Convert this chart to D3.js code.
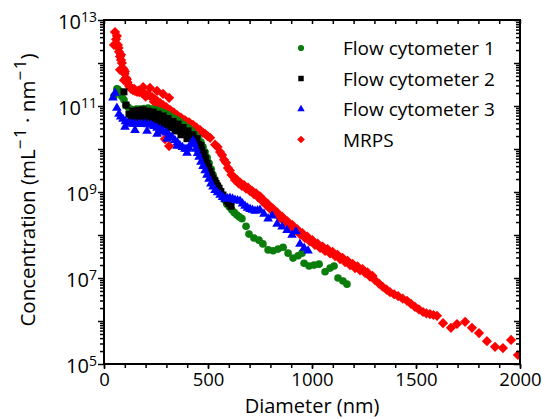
<!DOCTYPE html>
<html><head><meta charset="utf-8">
<script src="https://cdn.jsdelivr.net/npm/d3@7"></script>
<style>
html,body{margin:0;padding:0;background:#fff;}
svg{display:block;font-family:"Open Sans",sans-serif;}
</style></head>
<body><svg id="c" width="545" height="419"></svg>
<script>
// ---------- data ----------
const fc1Diameter = [48,62,77,96,115,139,173,212,250,288,327,365,404,438,466,486,505,524,543,567,591,615,639,663,683,697,721,745,764,789,813,837,861,885,909,933,952,962,986,1010,1034,1063,1087,1106,1125,1149,1168,
  68,86,105,127,156,192,231,269,307,346,385,421,452,476,496,515,534,555,579,603,627,651];
const fc1Conc = [1.7e11,2.5e11,2.1e11,1.4e11,9.5e10,8.1e10,8.5e10,9.0e10,8.1e10,6.9e10,5.5e10,4.3e10,3.1e10,2.2e10,1.45e10,8.5e9,4.7e9,2.5e9,1.45e9,8.5e8,5.2e8,3.8e8,2.9e8,2.4e8,1.6e8,1.05e8,8.5e7,7.6e7,6.2e7,4.5e7,4.3e7,4.7e7,5.2e7,3.8e7,2.9e7,3.3e7,3.8e7,2.2e7,1.9e7,2.0e7,2.1e7,1.4e7,1.7e7,1.9e7,1.0e7,8.5e6,7.2e6,
  2.4e11,1.66e11,1.07e11,8.51e10,8.51e10,8.71e10,8.51e10,7.59e10,6.31e10,4.9e10,3.63e10,2.63e10,1.82e10,1.12e10,6.31e9,3.39e9,1.91e9,1.12e9,6.61e8,4.47e8,3.31e8,2.63e8];

const fc2Diameter = [96,106,120,139,163,188,212,236,260,284,308,332,356,380,404,428,447,466,481,495,510,524,539,553,572,591,611,
  139,168,197,226,255,284,313,341,370,399,428,452,
  130,155,180,205,230,255,280,305,330,355,380,405,430,455,470,488,503,517,531,546,562,581,600];
const fc2Conc = [2.14e11,1.05e11,6.46e10,7.59e10,7.94e10,8.13e10,7.59e10,7.24e10,6.46e10,5.89e10,5.13e10,4.37e10,3.8e10,3.16e10,2.63e10,2.14e10,1.74e10,1.2e10,7.94e9,4.68e9,3.02e9,2.09e9,1.58e9,1.23e9,8.51e8,6.17e8,4.68e8,
  4.68e10,5.01e10,5.01e10,4.68e10,4.17e10,3.63e10,3.16e10,2.63e10,2.14e10,1.74e10,1.38e10,9.55e9,
  5.75e10,6.31e10,6.46e10,6.31e10,5.89e10,5.5e10,4.79e10,4.17e10,3.47e10,2.95e10,2.51e10,2.09e10,1.66e10,1.26e10,9.55e9,6.03e9,3.8e9,2.51e9,1.82e9,1.38e9,1.02e9,7.24e8,5.37e8];

const fc3Diameter = [43,53,62,72,91,115,139,168,197,226,255,284,313,341,365,389,409,428,442,457,476,495,514,534,558,582,606,630,654,678,702,726,750,769,789,808,832,856,880,904,923,942,962,981,
  101,149,207,255,303,351,399,
  80,103,127,153,182,211,240,270,298,327,353,377,399,418,435,450,466,486,505,524,546,570,594,618,642,666,690,714,738];
const fc3Conc = [1.55e11,2.0e11,9.0e10,6.5e10,5.0e10,4.0e10,3.8e10,3.8e10,3.8e10,3.6e10,3.1e10,2.6e10,2.1e10,1.6e10,1.2e10,1.0e10,1.05e10,1.55e10,1.0e10,6.5e9,4.0e9,2.5e9,1.55e9,1.1e9,8.5e8,6.9e8,7.2e8,6.5e8,6.2e8,4.7e8,4.0e8,3.6e8,3.8e8,3.1e8,2.4e8,2.8e8,1.8e8,1.55e8,1.3e8,1.0e8,1.2e8,6.2e7,5.0e7,4.3e7,
  3.24e10,2.75e10,2.63e10,2.24e10,1.7e10,1.17e10,8.13e9,
  5.62e10,4.37e10,3.89e10,3.8e10,3.8e10,3.72e10,3.39e10,2.88e10,2.4e10,1.86e10,1.41e10,1.1e10,1.0e10,1.32e10,1.26e10,7.94e9,5.01e9,3.16e9,2.0e9,1.32e9,9.77e8,7.59e8,7.08e8,6.92e8,6.31e8,5.37e8,4.27e8,3.8e8,3.72e8];

const mrpsDiameter = [53,62,67,72,77,82,91,99,106,113,120,130,139,149,159,170,183,195,207,219,231,243,255,270,284,300,317,335,351,370,389,409,428,445,462,486,510,534,558,577,596,613,630,647,663,683,702,721,740,760,779,800,822,846,870,894,918,942,966,990,1014,1039,1063,1087,1111,1135,1159,1183,1207,1231,1255,1279,1303,1322,1341,1358,1375,1395,1414,1436,1457,1476,1495,1514,1534,1550,1567,1584,1601,1630,1668,1697,1736,1769,1803,1841,1880,1918,1957,1990,
  188,221,255,284,313,96,77,48,82,221,245,269,293,313,
  58,70,86,95,100,110,125,145,165,200,240,260,290,325,360,400,437,475,498,
  546,568,587,605,622,640,655,673,693,712,731,750,770,790,811,834,858,882,906,930,954,978,1002,1027,1051,1075,1099,1123,1147,1171,1195,1219,1243,1267,1291];
const mrpsConc = [5.25e12,4.27e12,2.63e12,1.82e12,1.41e12,1.17e12,7.59e11,5.62e11,4.47e11,3.55e11,2.95e11,2.51e11,2.34e11,2.24e11,2.14e11,2.09e11,2.0e11,1.91e11,1.82e11,1.74e11,1.62e11,1.45e11,1.32e11,1.17e11,1.05e11,9.33e10,8.13e10,7.08e10,6.17e10,5.37e10,4.68e10,4.17e10,3.63e10,3.16e10,2.75e10,2.24e10,1.82e10,1.26e10,8.51e9,5.62e9,3.63e9,2.51e9,1.91e9,1.58e9,1.38e9,1.2e9,1.05e9,8.91e8,7.59e8,6.17e8,5.01e8,3.98e8,3.24e8,2.51e8,2.0e8,1.62e8,1.32e8,1.05e8,8.51e7,7.08e7,5.89e7,5.01e7,4.27e7,3.72e7,3.24e7,2.75e7,2.34e7,2.0e7,1.7e7,1.51e7,1.32e7,1.07e7,8.91e6,7.41e6,6.17e6,5.37e6,4.68e6,4.17e6,3.8e6,3.31e6,2.95e6,2.51e6,2.14e6,1.86e6,1.62e6,1.51e6,1.45e6,1.38e6,1.32e6,8.91e5,6.92e5,8.51e5,9.55e5,6.92e5,5.25e5,3.39e5,2.51e5,2.34e5,3.63e5,1.62e5,
  2.75e11,2.63e11,2.24e11,1.91e11,1.55e11,3.98e11,6.92e11,2.63e12,1.55e12,5.25e10,3.8e10,2.63e10,1.7e10,1.17e10,
  3.55e12,2.24e12,1.0e12,7.08e11,6.31e11,4.17e11,2.82e11,2.51e11,2.29e11,1.66e11,1.26e11,1.12e11,9.33e10,7.24e10,5.5e10,4.17e10,3.24e10,2.4e10,2.0e10,
  1.12e10,7.24e9,4.79e9,3.16e9,2.29e9,1.91e9,1.66e9,1.45e9,1.26e9,1.07e9,9.33e8,7.94e8,6.31e8,5.13e8,4.17e8,3.31e8,2.63e8,2.09e8,1.7e8,1.35e8,1.1e8,9.12e7,7.59e7,6.31e7,5.37e7,4.68e7,4.07e7,3.47e7,2.95e7,2.51e7,2.14e7,1.86e7,1.62e7,1.35e7,1.12e7];

const seriesNames = ["Flow cytometer 1","Flow cytometer 2","Flow cytometer 3","MRPS"];
const xTickValues = [0,500,1000,1500,2000];
const yLabelExponents = [5,7,9,11,13];

// ---------- layout ----------
const L=104, R=520, T=20, B=364;
const svg = d3.select("#c");
svg.append("rect").attr("width",545).attr("height",419).attr("fill","#fff");

const x = d3.scaleLinear().domain([0,2000]).range([L,R]);
const y = d3.scaleLog().domain([1e5,1e13]).range([B,T]);

const series = [
  {name:seriesNames[0], d:fc1Diameter, c:fc1Conc, color:"#0a7d0a", type:d3.symbolCircle, size:46, lsize:30, rot:0},
  {name:seriesNames[1], d:fc2Diameter, c:fc2Conc, color:"#000000", type:d3.symbolSquare, size:49, lsize:30, rot:0},
  {name:seriesNames[2], d:fc3Diameter, c:fc3Conc, color:"#0000ff", type:d3.symbolTriangle, size:40, lsize:24, rot:0},
  {name:seriesNames[3], d:mrpsDiameter, c:mrpsConc, color:"#ff0000", type:d3.symbolSquare, size:52, lsize:30, rot:45}
];

svg.append("clipPath").attr("id","clp").append("rect")
  .attr("x",L).attr("y",T).attr("width",R-L).attr("height",B-T);

const plot = svg.append("g").attr("clip-path","url(#clp)");
[series[3],series[0],series[1],series[2]].forEach(s=>{
  const sym = d3.symbol().type(s.type).size(s.size);
  plot.append("g").selectAll("path").data(s.d.map((v,i)=>[v,s.c[i]])).join("path")
    .attr("d",sym)
    .attr("transform",p=>`translate(${x(p[0])},${y(p[1])}) rotate(${s.rot})`)
    .attr("fill",s.color);
});

// ---------- axes ----------
const xMinor = d3.range(0,2001,100);
const decades = d3.range(5,14).map(e=>Math.pow(10,e));
const minors = [];
decades.slice(0,-1).forEach(dv=>{for(let k=2;k<10;k++) minors.push(dv*k);});

function styleAxis(g){ g.select(".domain").remove(); g.selectAll("line").attr("stroke","#000").attr("stroke-width",1.5); }

svg.append("g").attr("transform",`translate(0,${B})`)
  .call(d3.axisBottom(x).tickValues(xMinor).tickSize(4).tickFormat(""))
  .call(styleAxis);
svg.append("g").attr("transform",`translate(0,${B})`)
  .call(d3.axisBottom(x).tickValues(xTickValues).tickSize(5).tickPadding(3.5).tickFormat(d3.format("d")))
  .call(styleAxis)
  .call(g=>g.selectAll("text").attr("font-size",18.5).attr("fill","#000").attr("font-family","Open Sans, sans-serif"));
svg.append("g").attr("transform",`translate(0,${T})`)
  .call(d3.axisBottom(x).tickValues(xMinor).tickSize(4).tickFormat(""))
  .call(styleAxis);
svg.append("g").attr("transform",`translate(${L},0)`)
  .call(d3.axisLeft(y).tickValues(minors).tickSize(4).tickFormat(""))
  .call(styleAxis);
svg.append("g").attr("transform",`translate(${L},0)`)
  .call(d3.axisLeft(y).tickValues(decades).tickSize(6).tickFormat(""))
  .call(styleAxis);
svg.append("g").attr("transform",`translate(${R},0)`)
  .call(d3.axisLeft(y).tickValues(minors).tickSize(4).tickFormat(""))
  .call(styleAxis);
svg.append("g").attr("transform",`translate(${R},0)`)
  .call(d3.axisLeft(y).tickValues(decades).tickSize(6).tickFormat(""))
  .call(styleAxis);

const yl = svg.append("g").attr("font-family","Open Sans, sans-serif").attr("fill","#000");
yLabelExponents.forEach(e=>{
  const t = yl.append("text").attr("x",97).attr("y",y(Math.pow(10,e))+8.5)
    .attr("text-anchor","end").attr("font-size",20);
  t.append("tspan").text("10");
  t.append("tspan").attr("font-size",14).attr("dy",-7).text(String(e));
});

svg.append("rect").attr("x",L).attr("y",T).attr("width",R-L).attr("height",B-T)
  .attr("fill","none").attr("stroke","#000").attr("stroke-width",2);

svg.append("text").attr("x",(L+R)/2).attr("y",413).attr("text-anchor","middle")
  .attr("font-size",20).attr("fill","#000").text("Diameter (nm)");
const yt = svg.append("text").attr("transform",`translate(35,190) rotate(-90)`)
  .attr("text-anchor","middle").attr("font-size",20.5).attr("fill","#000");
yt.append("tspan").text("Concentration (mL");
yt.append("tspan").attr("font-size",17).attr("dy",-9).text("\u2212\u200a1");
yt.append("tspan").attr("dy",9).text("\u00a0\u00b7\u00a0nm");
yt.append("tspan").attr("font-size",17).attr("dy",-9).text("\u2212\u200a1");
yt.append("tspan").attr("dy",9).text(")");

const lg = svg.append("g");
series.forEach((s,i)=>{
  const cy = 48 + i*30.5;
  lg.append("path").attr("d",d3.symbol().type(s.type).size(s.lsize))
    .attr("transform",`translate(301,${cy}) rotate(${s.rot})`).attr("fill",s.color);
  lg.append("text").attr("x",343).attr("y",cy+7).attr("font-size",19).attr("fill","#000").text(s.name);
});
</script></body></html>
